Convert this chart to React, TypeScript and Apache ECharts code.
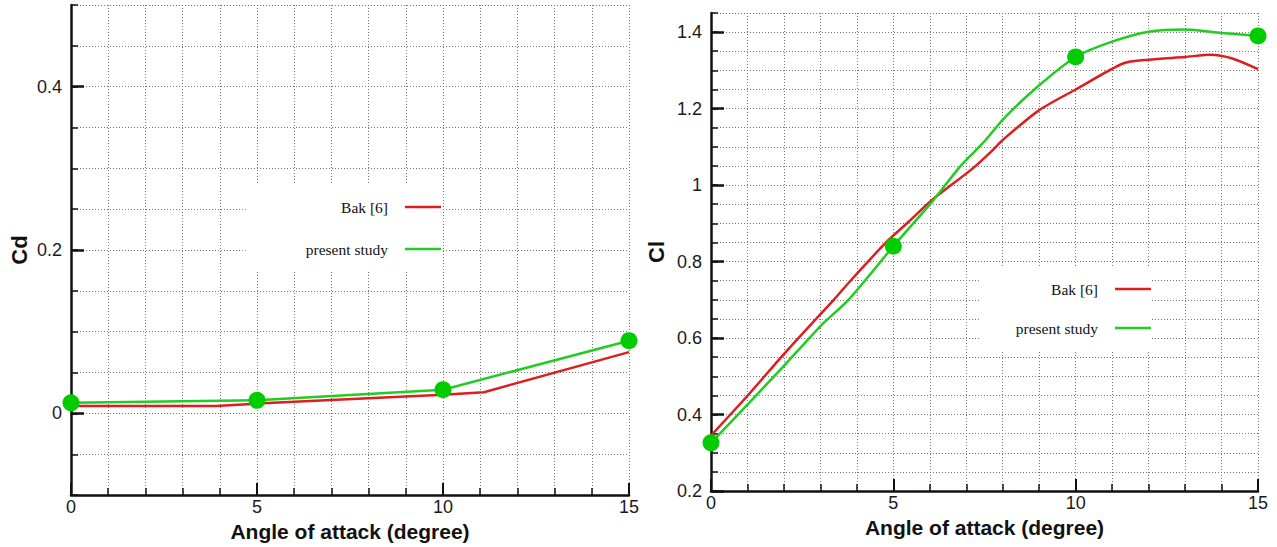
import React, { useEffect, useRef } from "react";
import * as echarts from "echarts";

// Tick labels
const angleTicks = [0, 5, 10, 15];
const cdTicks = [0, 0.2, 0.4];
const clTicks = [0.2, 0.4, 0.6, 0.8, 1.0, 1.2, 1.4];

// Cd chart
const cdBakX = [0, 3.9, 5, 10, 11.1, 15];
const cdBakY = [0.009, 0.009, 0.012, 0.023, 0.026, 0.075];
const cdStudyX = [0, 5, 10, 15];
const cdStudyY = [0.013, 0.016, 0.029, 0.089];

// Cl chart
const clBakX = [0, 1.02, 1.98, 2.85, 3.36, 3.77, 4.78, 5.42, 6.06, 7.17, 7.72, 8.0, 9.0, 10, 11.3, 12, 13, 13.7, 14.3, 15];
const clBakY = [0.345, 0.451, 0.556, 0.647, 0.699, 0.744, 0.848, 0.904, 0.961, 1.043, 1.091, 1.118, 1.196, 1.25, 1.318, 1.328, 1.335, 1.341, 1.331, 1.303];
const clStudyX = [0, 0.74, 1.93, 3.03, 3.77, 5, 6.06, 6.8, 7.26, 7.53, 8.08, 9, 10, 11, 12, 13, 14, 15];
const clStudyY = [0.326, 0.4, 0.52, 0.634, 0.7, 0.84, 0.956, 1.045, 1.091, 1.118, 1.179, 1.261, 1.335, 1.375, 1.401, 1.407, 1.398, 1.39];
const clMarkX = [0, 5, 10, 15];
const clMarkY = [0.326, 0.84, 1.335, 1.39];

const seriesNames = ["Bak [6]", "present study"];

const zip = (xs: number[], ys: number[]) => xs.map((x, i) => [x, ys[i]]);

const AXIS = "#111111";
const RED = "#dc1e1e";
const GREEN = "#22cc22";
const DOT = "#00cc00";
const SANS = "Liberation Sans";

const gridLine = { show: true, lineStyle: { color: "#777777", width: 1, type: [1, 2] as any } };

function xAxisFor(gridIndex: number) {
  return {
    type: "value",
    gridIndex,
    min: 0,
    max: 15,
    interval: 5,
    name: "Angle of attack (degree)",
    nameLocation: "middle",
    nameGap: 17,
    nameTextStyle: { fontFamily: SANS, fontWeight: "bold", fontSize: 21, color: "#111" },
    axisLine: { show: true, onZero: false, lineStyle: { color: AXIS, width: 2.5 } },
    axisTick: { show: true, inside: true, length: 12, lineStyle: { color: AXIS, width: 2 } },
    minorTick: { show: true, splitNumber: 5, length: 7, lineStyle: { color: AXIS, width: 1.5 } },
    splitLine: gridLine,
    minorSplitLine: gridLine,
    axisLabel: { margin: 3, fontFamily: SANS, fontSize: 18, color: "#1a1a1a", customValues: angleTicks },
  };
}

function yAxesFor(gridIndex: number, min: number, max: number, labels: number[], name: string, nameGap: number) {
  return [
    {
      type: "value",
      gridIndex,
      position: "left",
      min,
      max,
      interval: 0.05,
      axisLine: { show: false },
      axisTick: { show: true, inside: true, length: 7, lineStyle: { color: AXIS, width: 1.5 } },
      axisLabel: { show: false },
      splitLine: gridLine,
    },
    {
      type: "value",
      gridIndex,
      position: "left",
      min,
      max,
      interval: 0.05,
      name,
      nameLocation: "middle",
      nameGap,
      nameRotate: 90,
      nameTextStyle: { fontFamily: SANS, fontWeight: "bold", fontSize: 22, color: "#111" },
      axisLine: { show: true, onZero: false, lineStyle: { color: AXIS, width: 2.5 } },
      axisTick: { show: true, inside: true, length: 13, customValues: labels, lineStyle: { color: AXIS, width: 2.5 } },
      axisLabel: { margin: 9, fontFamily: SANS, fontSize: 18, color: "#1a1a1a", customValues: labels },
      splitLine: { show: false },
    },
  ];
}

function legendFor(right: number, top: number, itemGap: number, padLeft: number) {
  return {
    data: seriesNames,
    orient: "vertical",
    align: "right",
    icon: "rect",
    right,
    top,
    itemWidth: 36,
    itemHeight: 2.5,
    itemGap,
    padding: [14, 0, 14, padLeft],
    backgroundColor: "#ffffff",
    selectedMode: false,
    textStyle: { fontFamily: "Liberation Serif", fontSize: 15.5, color: "#111", padding: [0, 12, 0, 0] },
  };
}

function lineSeries(name: string, color: string, data: number[][], xi: number, yi: number, smooth: number) {
  return {
    type: "line",
    name,
    xAxisIndex: xi,
    yAxisIndex: yi,
    data,
    symbol: "none",
    showSymbol: false,
    smooth,
    color,
    lineStyle: { color, width: 2.5 },
    z: 3,
  };
}

function dotSeries(data: number[][], xi: number, yi: number) {
  return {
    type: "scatter",
    name: "markers",
    xAxisIndex: xi,
    yAxisIndex: yi,
    data,
    symbol: "circle",
    symbolSize: 17,
    itemStyle: { color: DOT, opacity: 1 },
    clip: false,
    z: 5,
  };
}

export default function App() {
  const ref = useRef<HTMLDivElement>(null);
  useEffect(() => {
    document.body.style.margin = "0";
    if (!ref.current) return;
    const chart = echarts.init(ref.current, null, { renderer: "svg" });
    chart.setOption({
      animation: false,
      backgroundColor: "#ffffff",
      grid: [
        { left: 71, top: 5, width: 558, height: 492 },
        { left: 711, top: 13, width: 547, height: 478 },
      ],
      xAxis: [xAxisFor(0), xAxisFor(1)],
      yAxis: [
        ...yAxesFor(0, -0.1, 0.5, cdTicks, "Cd", 41),
        ...yAxesFor(1, 0.2, 1.45, clTicks, "Cl", 44),
      ],
      legend: [legendFor(836, 185, 26, 60), legendFor(126, 267, 23, 36)],
      series: [
        lineSeries(seriesNames[0], RED, zip(cdBakX, cdBakY), 0, 0, 0),
        lineSeries(seriesNames[1], GREEN, zip(cdStudyX, cdStudyY), 0, 0, 0),
        dotSeries(zip(cdStudyX, cdStudyY), 0, 0),
        lineSeries(seriesNames[0], RED, zip(clBakX, clBakY), 1, 2, 0.25),
        lineSeries(seriesNames[1], GREEN, zip(clStudyX, clStudyY), 1, 2, 0.25),
        dotSeries(zip(clMarkX, clMarkY), 1, 2),
      ],
    });
    return () => chart.dispose();
  }, []);
  return <div ref={ref} style={{ width: 1277, height: 547 }} />;
}
